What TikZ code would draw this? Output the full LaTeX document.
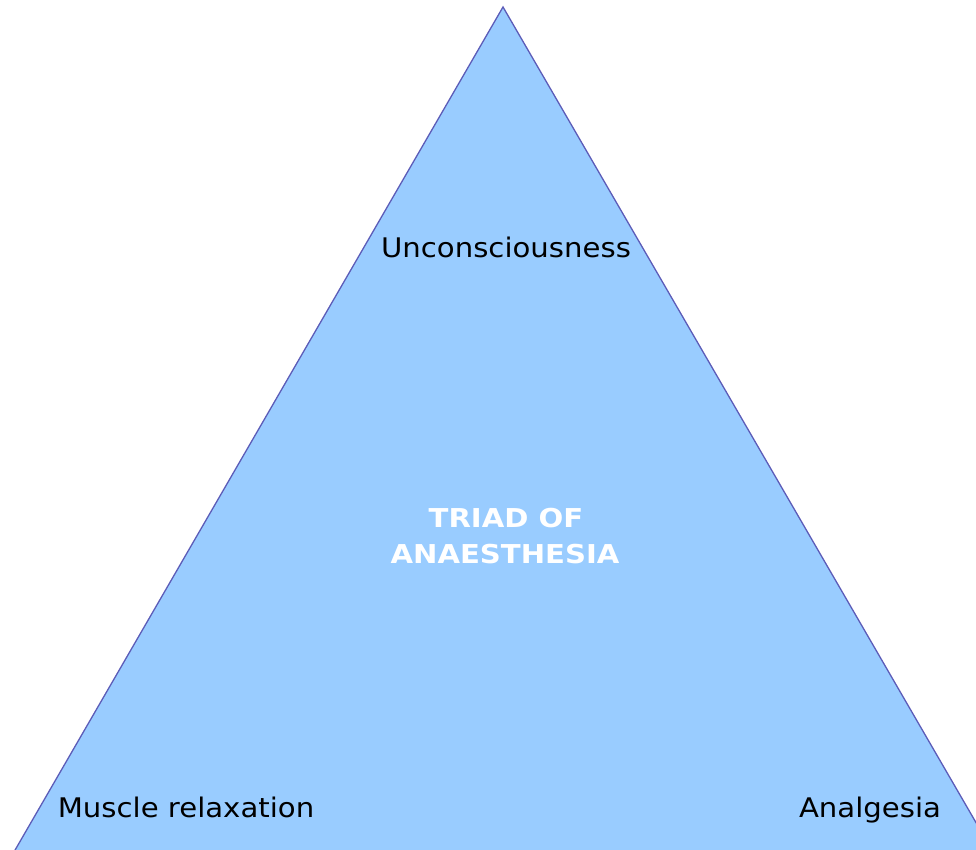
\documentclass[tikz,border=0pt]{standalone}
\usepackage{fontspec}
\setmainfont{DejaVu Sans}
\definecolor{trifill}{HTML}{99CCFF}
\definecolor{triedge}{HTML}{5C5CB8}
\tikzset{
  label/.style={inner sep=0pt, anchor=base, font=\fontsize{27}{30}\selectfont, text=black, xscale=1.08},
  title/.style={inner sep=0pt, anchor=base, font=\bfseries\fontsize{26}{30}\selectfont, text=white, xscale=1.12}
}
\begin{document}
\begin{tikzpicture}[x=1pt,y=-1pt]
\useasboundingbox (0,0) rectangle (976,850);
\clip (0,0) rectangle (976,850);
\coordinate (apex) at (503,7);
\coordinate (bl) at (3.5,870);
\coordinate (br) at (1003.5,870);
\filldraw[fill=trifill, draw=triedge, line width=1.3pt, line join=miter] (apex) -- (br) -- (bl) -- cycle;
\node[label] (unc) at (506,258) {Unconsciousness};
\node[label] (mus) at (186,817) {Muscle relaxation};
\node[label] (ana) at (870,817) {Analgesia};
\node[title] (t1) at (506,527) {TRIAD OF};
\node[title] (t2) at (505,563) {ANAESTHESIA};
\end{tikzpicture}
\end{document}
